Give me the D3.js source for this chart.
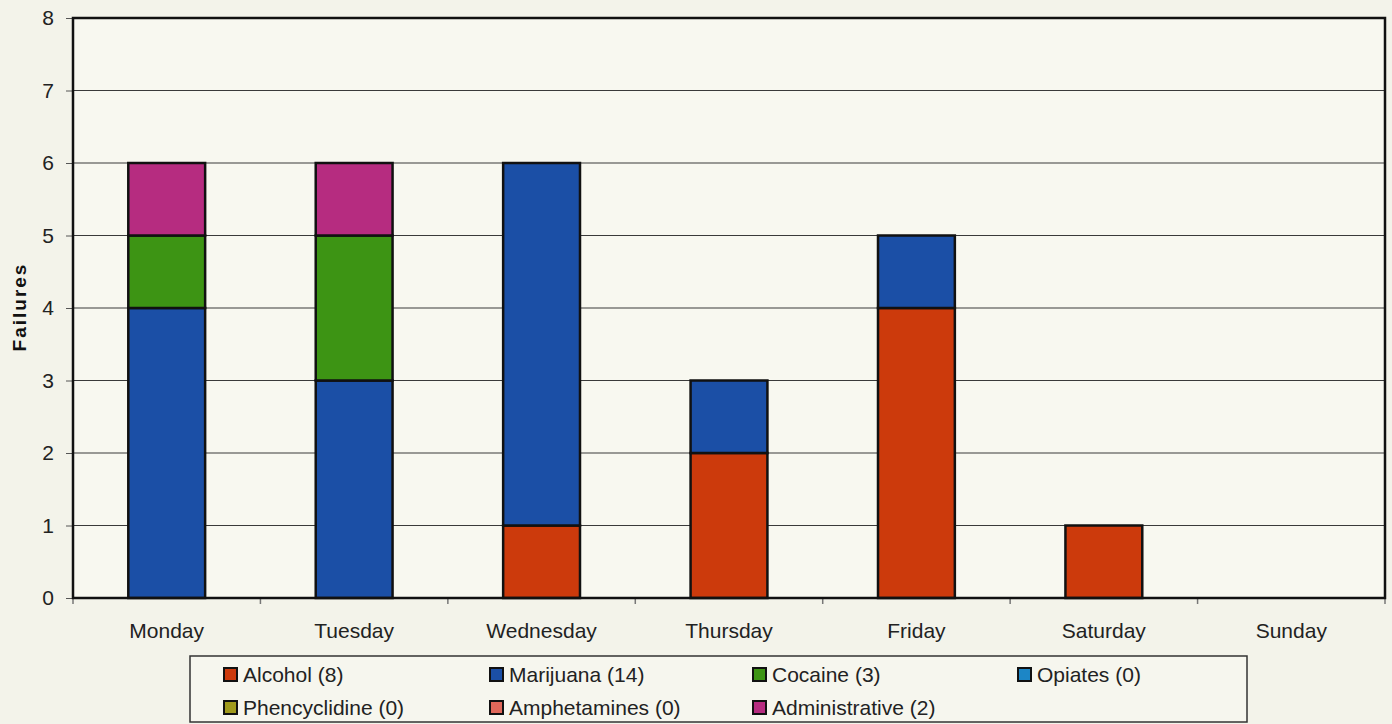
<!DOCTYPE html>
<html>
<head>
<meta charset="utf-8">
<script src="https://cdn.jsdelivr.net/npm/d3@7"></script>
<style>
  body { margin: 0; background: #f3f3ea; }
  svg { display: block; font-family: "Liberation Sans", Arial, sans-serif; }
</style>
</head>
<body>
<div id="chart"></div>
<script>
// failures by day of week, stacked by reason
let days = ['Monday', 'Tuesday', 'Wednesday', 'Thursday', 'Friday', 'Saturday', 'Sunday']
let seriesNames = ['Alcohol (8)', 'Marijuana (14)', 'Cocaine (3)', 'Opiates (0)',
    'Phencyclidine (0)', 'Amphetamines (0)', 'Administrative (2)']
let alcohol        = [0, 0, 1, 2, 4, 1, 0]
let marijuana      = [4, 3, 5, 1, 1, 0, 0]
let cocaine        = [1, 2, 0, 0, 0, 0, 0]
let opiates        = [0, 0, 0, 0, 0, 0, 0]
let phencyclidine  = [0, 0, 0, 0, 0, 0, 0]
let amphetamines   = [0, 0, 0, 0, 0, 0, 0]
let administrative = [1, 1, 0, 0, 0, 0, 0]
let yTicks = [0, 1, 2, 3, 4, 5, 6, 7, 8]

let colors = ['#cc3a0c', '#1b4fa6', '#3d9414', '#1c86c6', '#a09a1c', '#e0685a', '#b62c80']

let width = 1392, height = 724
let plot = {left: 73, right: 1385, top: 18, bottom: 598}

let allSeries = [alcohol, marijuana, cocaine, opiates, phencyclidine, amphetamines, administrative]
let rows = days.map((d, i) => {
    let r = {day: d}
    seriesNames.forEach((s, k) => r[s] = allSeries[k][i])
    return r
})
let stacked = d3.stack().keys(seriesNames)(rows)

let svg = d3.select('#chart').append('svg')
    .attr('width', width)
    .attr('height', height)

svg.append('rect').attr('width', width).attr('height', height).attr('fill', '#f3f3ea')

let x = d3.scaleBand().domain(days)
    .range([plot.left, plot.right])
    .paddingInner(0.59)
    .paddingOuter(0.295)
let y = d3.scaleLinear().domain([0, 8]).range([plot.bottom, plot.top])

// plot area
svg.append('rect')
    .attr('x', plot.left).attr('y', plot.top)
    .attr('width', plot.right - plot.left).attr('height', plot.bottom - plot.top)
    .attr('fill', '#f8f8f0')

// gridlines
svg.append('g').selectAll('line')
    .data(yTicks.slice(1, -1))
    .enter().append('line')
    .attr('x1', plot.left).attr('x2', plot.right)
    .attr('y1', d => y(d)).attr('y2', d => y(d))
    .attr('stroke', '#3a3a3a').attr('stroke-width', 1.2)

// y axis
let yAxis = svg.append('g')
    .attr('transform', `translate(${plot.left},0)`)
    .call(d3.axisLeft(y).tickValues(yTicks).tickSize(7).tickPadding(12).tickFormat(d3.format('d')))
yAxis.select('.domain').remove()
yAxis.selectAll('line').attr('stroke', '#555')
yAxis.selectAll('text')
    .attr('font-size', 21)
    .attr('fill', '#222')
    .attr('font-family', '"Liberation Sans", Arial, sans-serif')

// x axis ticks at band boundaries
let step = x.step()
let bounds = d3.range(days.length + 1).map(i => plot.left + i * step)
svg.append('g').selectAll('line')
    .data(bounds)
    .enter().append('line')
    .attr('x1', d => d).attr('x2', d => d)
    .attr('y1', plot.bottom).attr('y2', plot.bottom + 6)
    .attr('stroke', '#777').attr('stroke-width', 1.5)

svg.append('g').selectAll('text')
    .data(days)
    .enter().append('text')
    .attr('x', d => x(d) + x.bandwidth() / 2)
    .attr('y', plot.bottom + 40)
    .attr('text-anchor', 'middle')
    .attr('font-size', 21)
    .attr('fill', '#222')
    .text(d => d)

// bars
svg.append('g').selectAll('g')
    .data(stacked)
    .enter().append('g')
    .attr('fill', (d, i) => colors[i])
    .selectAll('rect')
    .data(d => d.filter(v => v[1] - v[0] > 0))
    .enter().append('rect')
    .attr('x', d => x(d.data.day))
    .attr('y', d => y(d[1]))
    .attr('width', x.bandwidth())
    .attr('height', d => y(d[0]) - y(d[1]))
    .attr('stroke', '#111')
    .attr('stroke-width', 2.5)

// plot border
svg.append('rect')
    .attr('x', plot.left).attr('y', plot.top)
    .attr('width', plot.right - plot.left).attr('height', plot.bottom - plot.top)
    .attr('fill', 'none')
    .attr('stroke', '#111').attr('stroke-width', 2.5)

// y label
svg.append('text')
    .attr('transform', 'translate(26,307) rotate(-90)')
    .attr('text-anchor', 'middle')
    .attr('font-size', 19)
    .attr('font-weight', 'bold')
    .attr('letter-spacing', 2)
    .attr('fill', '#111')
    .text('Failures')

// legend
let legend = svg.append('g')
legend.append('rect')
    .attr('x', 190).attr('y', 656)
    .attr('width', 1057).attr('height', 66)
    .attr('fill', '#f6f6ee')
    .attr('stroke', '#333').attr('stroke-width', 1.5)

let colX = [224, 490, 753, 1018]
let items = legend.selectAll('g.item')
    .data(seriesNames)
    .enter().append('g')
    .attr('class', 'item')
    .attr('transform', (d, i) => `translate(${colX[i % 4]},${i < 4 ? 668 : 701})`)
items.append('rect')
    .attr('width', 13).attr('height', 13)
    .attr('fill', (d, i) => colors[i])
    .attr('stroke', '#111').attr('stroke-width', 2)
items.append('text')
    .attr('x', 19).attr('y', 14)
    .attr('font-size', 21)
    .attr('fill', '#222')
    .text(d => d)
</script>
</body>
</html>
